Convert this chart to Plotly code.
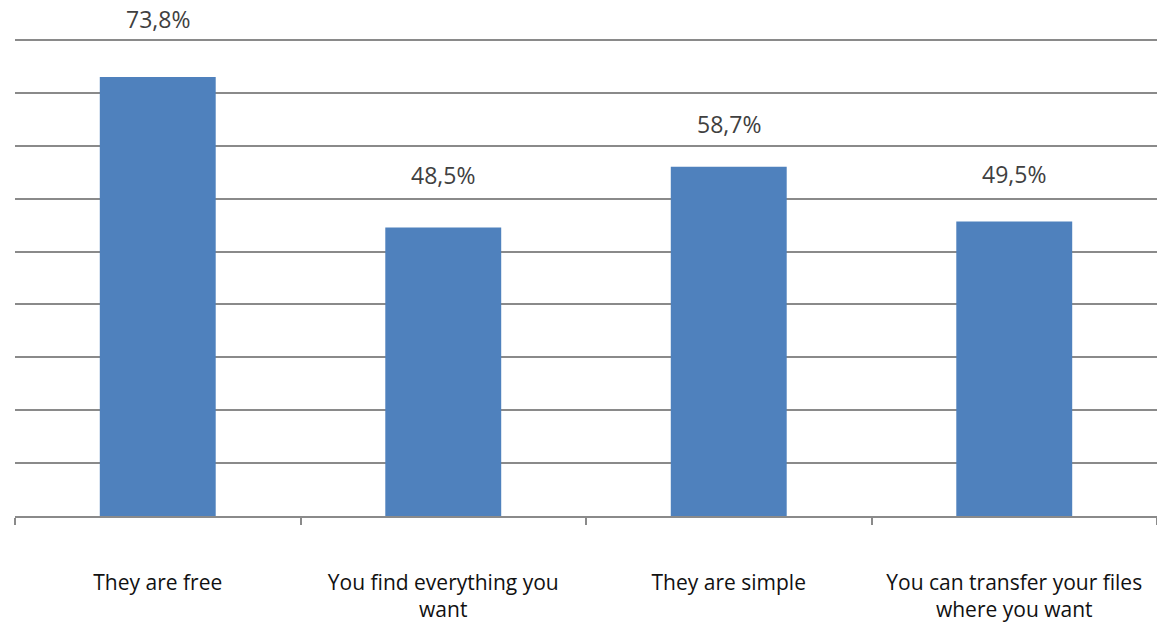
import plotly.graph_objects as go

# Survey answers and their shares (percent)
categories = [
    "They are free",
    "You find everything you<br>want",
    "They are simple",
    "You can transfer your files<br>where you want",
]
shares = [73.8, 48.5, 58.7, 49.5]

# Vertical lift (px) of each value label above its bar
label_lift = [58, 52, 43, 47]

grid_top = 80
grid_vals = [grid_top * k / 9 for k in range(1, 10)]
# small headroom so the top gridline is not clipped at the frame edge
y_top = 80.34

fig = go.Figure()
fig.add_trace(go.Bar(
    x=categories,
    y=shares,
    marker=dict(color="#4F81BD", line=dict(width=0)),
    hoverinfo="skip",
))

for cat, val, lift in zip(categories, shares, label_lift):
    fig.add_annotation(
        x=cat, y=val, xref="x", yref="y",
        text=f"{val:.1f}%".replace(".", ","),
        showarrow=False, yanchor="middle", yshift=lift,
        font=dict(family="Open Sans", size=23, color="#404040"),
    )

fig.update_layout(
    width=1157, height=632,
    margin=dict(l=15, r=0, t=38, b=116),
    paper_bgcolor="white", plot_bgcolor="white",
    showlegend=False,
    bargap=0.594,
    font=dict(family="Open Sans", size=21, color="#111111"),
)
fig.update_xaxes(
    type="category",
    tickson="boundaries",
    ticks="outside", ticklen=7, tickcolor="#8a8a8a", tickwidth=1.5,
    showline=True, linecolor="#8a8a8a", linewidth=1.5,
    showgrid=False,
    ticklabelstandoff=47,
    tickfont=dict(family="Open Sans", size=21, color="#111111"),
)
fig.update_yaxes(
    range=[0, y_top],
    tickvals=grid_vals,
    showticklabels=False,
    showgrid=True, gridcolor="#8a8a8a", gridwidth=1.5,
    zeroline=False, showline=False, ticks="",
)

fig.write_html("out.html")
